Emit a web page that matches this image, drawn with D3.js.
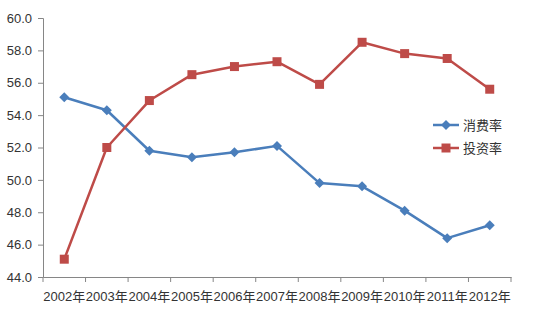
<!DOCTYPE html>
<html>
<head>
<meta charset="utf-8">
<script src="https://cdn.jsdelivr.net/npm/d3@7"></script>
<style>
  body { margin: 0; background: #fff; }
  text { font-family: "Liberation Sans", "Noto Sans CJK SC", sans-serif; fill: #333; }
</style>
</head>
<body>
<svg id="chart" width="548" height="315"></svg>
<script>
/* jshint esversion: 6 */

var years = ["2002年", "2003年", "2004年", "2005年", "2006年", "2007年",
             "2008年", "2009年", "2010年", "2011年", "2012年"];
var consumption = [55.1, 54.3, 51.8, 51.4, 51.7, 52.1, 49.8, 49.6, 48.1, 46.4, 47.2];
var investment = [45.1, 52.0, 54.9, 56.5, 57.0, 57.3, 55.9, 58.5, 57.8, 57.5, 55.6];
var yTicks = [44, 46, 48, 50, 52, 54, 56, 58, 60];

var series = [
	{name: "消费率", values: consumption, color: "#4a7ebb", marker: "diamond"},
	{name: "投资率", values: investment, color: "#be4b48", marker: "square"}
];

var svg = d3.select("#chart"),
		margin = {top: 18, left: 43, right: 37, bottom: 38},
		width = 548 - margin.left - margin.right,
		height = 315 - margin.top - margin.bottom;

var g = svg.append("g").attr("transform", "translate(" + margin.left + "," + margin.top + ")");

var x = d3.scaleBand().domain(years).range([0, width]);
var y = d3.scaleLinear().domain([44, 60]).range([height, 0]);

// y axis
var yAxis = g.append("g")
	.call(d3.axisLeft(y).tickValues(yTicks).tickFormat(d3.format(".1f")).tickSize(5).tickPadding(6));
yAxis.selectAll("text").style("font-size", "13px");

// x axis, ticks on category boundaries
var xAxis = g.append("g")
	.attr("transform", "translate(0," + height + ")")
	.call(d3.axisBottom(x).tickSize(0).tickPadding(15));
xAxis.selectAll("text").style("font-size", "13px");
xAxis.selectAll(".bound")
	.data(d3.range(years.length + 1))
	.enter().append("line")
	.attr("class", "bound")
	.attr("x1", function(i) { return i * x.step(); })
	.attr("x2", function(i) { return i * x.step(); })
	.attr("y1", 0).attr("y2", 5);

svg.selectAll(".domain, .tick line, .bound").attr("stroke", "#868686").attr("stroke-width", 1);

var line = d3.line()
	.x(function(d, i) { return x(years[i]) + x.bandwidth() / 2; })
	.y(function(d) { return y(d); });

function markerPath(type) {
	if (type === "diamond") return "M0,-5L5,0L0,5L-5,0Z";
	return "M-4.5,-4.5H4.5V4.5H-4.5Z";
}

series.forEach(function(s) {
	g.append("path")
		.datum(s.values)
		.attr("fill", "none")
		.attr("stroke", s.color)
		.attr("stroke-width", 2.5)
		.attr("stroke-linejoin", "round")
		.attr("d", line);

	g.selectAll(null)
		.data(s.values)
		.enter().append("path")
		.attr("d", markerPath(s.marker))
		.attr("transform", function(d, i) {
			return "translate(" + (x(years[i]) + x.bandwidth() / 2) + "," + y(d) + ")";
		})
		.attr("fill", s.color);
});

// legend
var legend = svg.append("g").attr("transform", "translate(433,125)");
series.forEach(function(s, i) {
	var row = legend.append("g").attr("transform", "translate(0," + (i * 23) + ")");
	row.append("line")
		.attr("x1", 0).attr("x2", 26)
		.attr("stroke", s.color).attr("stroke-width", 2.5);
	row.append("path")
		.attr("d", markerPath(s.marker))
		.attr("transform", "translate(13,0)")
		.attr("fill", s.color);
	row.append("text")
		.attr("x", 30).attr("dy", "0.35em")
		.style("font-size", "13px")
		.text(s.name);
});
</script>
</body>
</html>
